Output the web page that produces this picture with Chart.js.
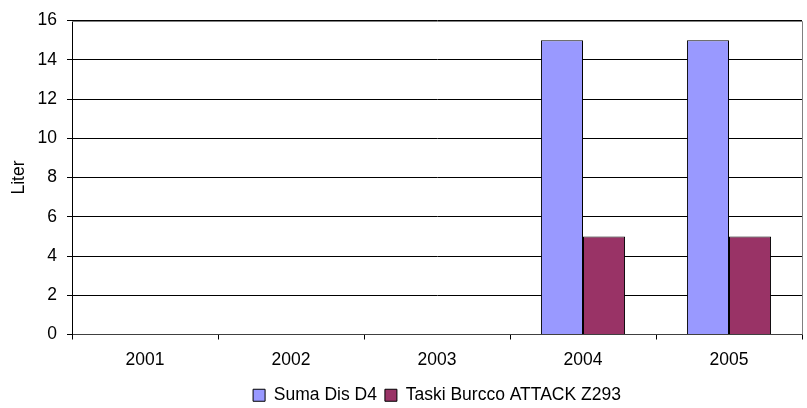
<!DOCTYPE html>
<html>
<head>
<meta charset="utf-8">
<script src="https://cdn.jsdelivr.net/npm/chart.js@4.4.0/dist/chart.umd.min.js"></script>
<style>
  html, body { margin: 0; padding: 0; background: #fff; }
  #wrap { width: 807px; height: 408px; }
</style>
</head>
<body>
<div id="wrap"><canvas id="graphique"></canvas></div>
<script>
// Données
const annees = ["2001", "2002", "2003", "2004", "2005"];
const sumaDis = [0, 0, 0, 15, 15];
const taskiBurcco = [0, 0, 0, 5, 5];
const ticksY = [0, 2, 4, 6, 8, 10, 12, 14, 16];

Chart.defaults.font.family = "'Liberation Sans', Arial, sans-serif";
Chart.defaults.font.size = 17.5;
Chart.defaults.color = "#000";

const legendePadding = 8;

// Cadre gris en haut et à droite de la zone de tracé
const cadre = {
  id: "cadre",
  afterLayout(chart) {
    // légende centrée sous la zone de tracé, un peu plus bas
    const lg = chart.legend;
    const a = chart.chartArea;
    const h = lg.height;
    lg.left = a.left;
    lg.right = a.right;
    lg.width = a.right - a.left;
    lg.top = 397 - legendePadding - 10.5;
    lg.bottom = lg.top + h;
  },
  afterDraw(chart) {
    const a = chart.chartArea;
    const ctx = chart.ctx;
    const r = Math.round(a.right) + 0.5;
    const t = Math.round(a.top) + 0.5;
    ctx.save();
    ctx.strokeStyle = "#808080";
    ctx.lineWidth = 1;
    ctx.beginPath();
    ctx.moveTo(a.left, t);
    ctx.lineTo(r, t);
    ctx.lineTo(r, a.bottom);
    ctx.stroke();
    ctx.restore();
  }
};

const data = {
  labels: annees,
  datasets: [
    {
      label: "Suma Dis D4",
      data: sumaDis,
      backgroundColor: "#9999FF",
      borderColor: "#000",
      borderWidth: 1
    },
    {
      label: "Taski Burcco ATTACK Z293",
      data: taskiBurcco,
      backgroundColor: "#993366",
      borderColor: "#000",
      borderWidth: 1
    }
  ]
};

const config = {
  type: "bar",
  data: data,
  plugins: [cadre],
  options: {
    responsive: true,
    maintainAspectRatio: false,
    animation: false,
    categoryPercentage: 0.576,
    barPercentage: 1,
    layout: { padding: { left: 0, right: 5, top: 19, bottom: 0 } },
    plugins: {
      tooltip: { enabled: false },
      legend: {
        position: "bottom",
        labels: {
          boxWidth: 12,
          boxHeight: 12,
          padding: legendePadding,
          font: { size: 17.5 }
        }
      }
    },
    scales: {
      x: {
        grid: {
          offset: true,
          drawOnChartArea: false,
          color: "#000",
          tickLength: 5
        },
        border: { color: "#404040" },
        ticks: { padding: 10 },
        afterFit(scale) {
          scale.height = 38;
        }
      },
      y: {
        min: 0,
        max: 16,
        afterBuildTicks(scale) {
          scale.ticks = ticksY.map(v => ({ value: v }));
        },
        afterFit(scale) {
          scale.width = 72;
        },
        grid: {
          color: "#000",
          tickLength: 5
        },
        border: { color: "#000" },
        ticks: { padding: 10 },
        title: {
          display: true,
          text: "Liter",
          font: { size: 17.5 },
          padding: { top: 9, bottom: 0 }
        }
      }
    }
  }
};

new Chart(document.querySelector("#graphique"), config);
</script>
</body>
</html>
